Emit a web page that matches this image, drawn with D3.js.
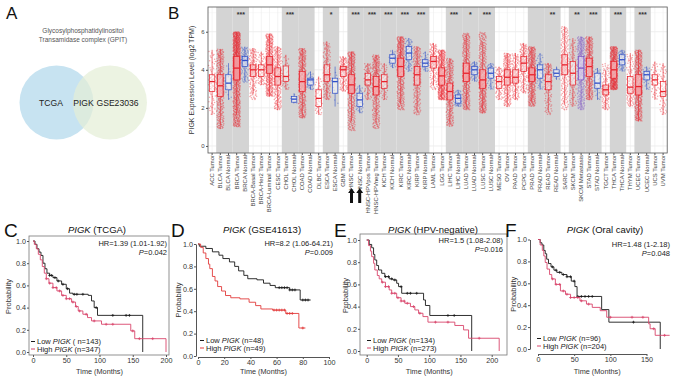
<!DOCTYPE html>
<html>
<head>
<meta charset="utf-8">
<script src="https://cdn.jsdelivr.net/npm/d3@7"></script>
<style>
  body { margin: 0; background: #fff; }
  svg { display: block; font-family: Arial, "Liberation Sans", sans-serif; }
</style>
</head>
<body>
<div id="chart"></div>
<script>
// ---------- panel A : venn ----------
const vennTitle = ["Glycosylphosphatidylinositol", "Transamidase complex (GPIT)"];
const vennSets = ["TCGA", "GSE23036"];
const vennShared = "PIGK";

// ---------- panel B : TIMER expression ----------
const cats = ["ACC Tumor","BLCA Tumor","BLCA Normal","BRCA Tumor","BRCA Normal","BRCA-Basal Tumor","BRCA-Her2 Tumor","BRCA-Luminal Tumor","CESC Tumor","CHOL Tumor","CHOL Normal","COAD Tumor","COAD Normal","DLBC Tumor","ESCA Tumor","ESCA Normal","GBM Tumor","HNSC Tumor","HNSC Normal","HNSC-HPVpos Tumor","HNSC-HPVneg Tumor","KICH Tumor","KICH Normal","KIRC Tumor","KIRC Normal","KIRP Tumor","KIRP Normal","LAML Tumor","LGG Tumor","LIHC Tumor","LIHC Normal","LUAD Tumor","LUAD Normal","LUSC Tumor","LUSC Normal","MESO Tumor","OV Tumor","PAAD Tumor","PCPG Tumor","PRAD Tumor","PRAD Normal","READ Tumor","READ Normal","SARC Tumor","SKCM Tumor","SKCM Metastasis","STAD Tumor","STAD Normal","TGCT Tumor","THCA Tumor","THCA Normal","THYM Tumor","UCEC Tumor","UCEC Normal","UCS Tumor","UVM Tumor"];
const q1  = [2.86,2.60,2.95,3.47,4.17,3.65,3.65,3.82,3.20,3.38,2.30,2.86,3.20,2.07,3.38,2.77,3.65,2.77,2.07,3.20,2.68,3.03,4.35,3.65,4.53,3.20,4.17,4.09,3.20,2.42,2.25,3.38,3.74,3.03,3.56,3.03,3.20,3.30,3.92,3.38,3.56,2.95,3.65,3.74,3.20,3.47,3.65,3.03,2.68,3.56,4.26,2.77,2.68,3.47,3.20,2.60];
const med = [3.38,3.16,3.30,4.09,4.49,4.00,4.00,4.26,3.65,3.65,2.46,3.38,3.47,2.50,3.74,3.38,4.00,3.21,2.42,3.47,3.12,3.38,4.61,4.17,4.88,3.74,4.35,4.44,3.68,2.86,2.50,3.82,4.00,3.47,3.82,3.38,3.61,3.61,4.35,3.74,4.00,3.38,3.82,4.26,3.82,4.09,4.17,3.30,2.95,4.00,4.53,3.09,3.12,3.74,3.47,2.86];
const q3  = [3.74,3.74,3.74,4.70,4.70,4.26,4.26,4.70,4.10,4.20,2.60,3.92,3.56,2.95,4.26,3.56,4.17,3.74,2.77,3.82,3.65,3.74,4.79,4.61,5.22,4.17,4.53,4.70,4.10,3.30,2.68,4.35,4.17,4.00,4.09,3.65,4.00,4.00,4.70,4.10,4.26,3.74,4.00,4.79,4.44,4.70,4.61,3.82,3.20,4.44,4.79,3.65,3.74,3.92,3.74,3.38];
const lo  = [1.63,0.90,2.42,1.00,3.30,2.42,3.20,2.60,1.89,2.95,2.25,1.46,2.95,1.63,2.42,2.07,2.86,0.80,1.72,2.42,0.90,2.42,4.09,1.89,3.91,1.63,3.91,2.95,2.42,1.02,2.07,1.89,3.38,1.72,2.95,2.42,2.07,2.42,2.77,2.07,2.95,1.63,3.47,1.89,2.07,1.89,2.42,2.42,1.89,2.95,3.91,2.07,1.30,2.95,2.42,1.63];
const hi  = [5.05,5.10,4.35,6.00,5.22,5.14,4.96,5.90,5.23,4.79,2.77,5.14,3.91,3.65,5.49,4.17,4.70,4.96,3.21,4.35,4.79,4.35,5.05,5.75,5.67,5.23,4.96,5.40,5.05,4.61,2.95,5.93,4.44,6.00,4.35,4.17,4.88,4.88,5.40,5.23,4.88,4.35,4.17,6.28,5.67,5.75,5.75,4.09,4.35,5.23,5.05,4.88,5.05,4.17,4.44,4.35];
const nSamples = [79,408,19,1093,112,191,82,566,304,36,9,457,41,48,184,11,153,520,44,97,421,66,25,533,72,290,32,173,516,371,50,515,59,501,51,87,303,178,179,497,52,166,10,259,103,368,415,35,150,509,59,120,545,35,57,80];
const pairStart = [1,3,9,11,14,17,19,21,23,25,29,31,33,39,41,44,46,49,52];
const starPair  = [3,9,14,17,19,21,23,25,29,31,33,41,44,46,49,52];
const starText  = ["***","***","*","***","***","***","***","***","***","*","***","**","**","***","***","***"];
const arrowCats = ["HNSC Tumor","HNSC Normal"];
const yTicksB = [0,2,4,6];

// ---------- panels C-F : Kaplan-Meier ----------
const kmTitles = ["(TCGA)","(GSE41613)","(HPV-negative)","(Oral cavity)"];
const kmHR = ["HR=1.39 (1.01-1.92)","HR=8.2 (1.06-64.21)","HR=1.5 (1.08-2.08)","HR=1.48 (1-2.18)"];
const kmP = ["=0.042","=0.009","=0.016","=0.048"];
const kmLowN = ["( n=143)","(n=48)","(n=134)","(n=96)"];
const kmHighN = ["(n=347)","(n=49)","(n=273)","(n=204)"];

const cLowT  = [0,3,6,9,12,15,18,21,25,30,36,43,50,55,60,83,88,92,97,165];
const cLowS  = [1,0.97,0.93,0.90,0.87,0.80,0.75,0.71,0.69,0.67,0.64,0.61,0.57,0.53,0.52,0.51,0.46,0.40,0.33,0];
const cHighT = [0,2,5,8,11,14,17,20,24,30,36,43,50,58,64,68,75,82,88,103,147,153,200];
const cHighS = [1,0.97,0.93,0.88,0.83,0.77,0.71,0.66,0.62,0.58,0.55,0.51,0.48,0.45,0.41,0.37,0.34,0.31,0.28,0.25,0.19,0.12,0];
const cLowCens  = [25,28,33,38,45,52,62,66,75,95,120,140,145];
const cHighCens = [20,25,30,35,40,45,50,55,60,65,70,80,92,110,120,150,160,180];

const dLowT  = [0,1,6,11,16,19,24,28,31,35,38,45,50,55,59,70,78,86];
const dLowS  = [1,0.98,0.96,0.93,0.90,0.87,0.84,0.80,0.76,0.72,0.69,0.68,0.65,0.63,0.61,0.59,0.50,0.50];
const dHighT = [0,2,4,6,8,9,11,13,15,18,21,25,32,39,44,48,57,67,77,82];
const dHighS = [1,0.97,0.92,0.87,0.82,0.78,0.71,0.67,0.62,0.58,0.54,0.52,0.51,0.48,0.45,0.42,0.41,0.38,0.25,0.25];
const dLowCens  = [62,64,66,68,70,72,74,80,82,84];
const dHighCens = [58,60,62,64,66,68,70,72,80];

const eLowT  = [0,4,8,11,13,16,19,24,29,36,42,48,51,56,91,94,101,168];
const eLowS  = [1,0.96,0.93,0.87,0.82,0.77,0.73,0.70,0.67,0.65,0.64,0.61,0.58,0.52,0.46,0.41,0.32,0];
const eHighT = [0,3,6,8,11,13,17,20,24,30,36,40,48,55,61,70,77,83,90,98,141,155,163,212];
const eHighS = [1,0.95,0.90,0.85,0.79,0.73,0.68,0.65,0.62,0.58,0.55,0.52,0.48,0.45,0.43,0.40,0.37,0.34,0.31,0.26,0.23,0.19,0.115,0];
const eLowCens  = [30,35,40,45,55,65,70,80,130,140];
const eHighCens = [25,30,35,40,45,50,55,60,65,75,85,110,130,180];

const fLowT  = [0,3,5.5,8,10,12,14.5,18,22,26,33,40,46,51,54,88,98,169];
const fLowS  = [1,0.97,0.95,0.90,0.87,0.82,0.78,0.75,0.72,0.70,0.68,0.66,0.62,0.57,0.48,0.36,0.245,0];
const fHighT = [0,3,6,8,10,12.5,16,19,24,31,38,45,58,67,75,86,95,153,155,162,182];
const fHighS = [1,0.95,0.90,0.85,0.79,0.73,0.68,0.64,0.59,0.53,0.50,0.47,0.44,0.41,0.38,0.35,0.29,0.23,0.185,0.125,0.125];
const fLowCens  = [20,25,30,35,40,45,50,55,60,65,70,75,132];
const fHighCens = [20,25,30,35,40,45,50,55,60,70,100,130,145,160,175];

const W = 678, H = 378;
const svg = d3.select("#chart").append("svg").attr("width", W).attr("height", H);

function letter(t, x, y, size) {
  svg.append("text").attr("x", x).attr("y", y).attr("font-size", size).attr("fill", "#111").text(t);
}

// radical inverse, used to spread the strip points evenly
function halton(k, base) {
  let f = 1, r = 0;
  while (k > 0) { f /= base; r += f * (k % base); k = Math.floor(k / base); }
  return r;
}

// ========== A ==========
letter("A", 6, 19, 17);
vennTitle.forEach((t, i) => {
  svg.append("text").attr("x", 83).attr("y", 33 + i * 9).attr("text-anchor", "middle")
    .attr("font-size", 6.5).attr("fill", "#555").text(t);
});
svg.append("circle").attr("cx", 56.5).attr("cy", 102.5).attr("r", 37).attr("fill", "#c7e3f1");
svg.append("circle").attr("cx", 110).attr("cy", 102.5).attr("r", 37).attr("fill", "#e4eed7").attr("fill-opacity", 0.72);
[[vennSets[0], 51], [vennShared, 83.5], [vennSets[1], 117.5]].forEach(([t, x]) => {
  svg.append("text").attr("x", x).attr("y", 106).attr("text-anchor", "middle")
    .attr("font-size", 8.6).attr("fill", "#222").text(t);
});

// ========== B ==========
letter("B", 168, 19, 17);
const bx0 = 208, bx1 = 667.2, by0 = 7, by1 = 153;
const xB = d3.scaleBand().domain(cats).range([bx0, bx1]);
const yB = d3.scaleLinear().domain([-0.37, 7.3]).range([by1, by0]);
const bw = xB.bandwidth();
const gB = svg.append("g");

// horizontal grid
d3.range(0, 8).forEach(v => {
  gB.append("line").attr("x1", bx0).attr("x2", bx1).attr("y1", yB(v)).attr("y2", yB(v))
    .attr("stroke", v % 2 ? "#f2f2f2" : "#e6e6e6").attr("stroke-width", v % 2 ? 0.5 : 0.7);
});
// vertical grid
cats.forEach(c => {
  gB.append("line").attr("x1", xB(c) + bw / 2).attr("x2", xB(c) + bw / 2).attr("y1", by0).attr("y2", by1)
    .attr("stroke", "#ececec").attr("stroke-width", 0.6);
});
// gray pair bands
pairStart.forEach(i => {
  gB.append("rect").attr("x", xB(cats[i])).attr("y", by0).attr("width", bw * 2).attr("height", by1 - by0)
    .attr("fill", "#d4d4d4");
});

const kindColor = c => c.includes("Metastasis") ? "#7d52c4" : c.includes("Normal") ? "#2f4fc8" : "#e8212b";

// points: strip of each category's distribution, placed at its quantiles
const dots = gB.append("g");
cats.forEach((c, i) => {
  const qf = d3.scaleLinear().domain([0, 0.25, 0.5, 0.75, 1]).range([lo[i], q1[i], med[i], q3[i], hi[i]]);
  const n = nSamples[i];
  const col = kindColor(c);
  const xc = xB(c) + bw / 2;
  d3.range(n).forEach(k => {
    const p = halton(k + 1, 2);
    const jit = halton(k + 1, 3) - 0.5;
    dots.append("circle").attr("cx", xc + jit * bw * 0.88).attr("cy", yB(qf(p)))
      .attr("r", 0.75).attr("fill", col).attr("fill-opacity", 0.4);
  });
});

// boxes
cats.forEach((c, i) => {
  const col = kindColor(c);
  const xc = xB(c) + bw / 2;
  const iqr = q3[i] - q1[i];
  const wHi = Math.min(hi[i], q3[i] + 1.5 * iqr);
  const wLo = Math.max(lo[i], q1[i] - 1.5 * iqr);
  const bwid = bw * 0.66;
  gB.append("line").attr("x1", xc).attr("x2", xc).attr("y1", yB(q3[i])).attr("y2", yB(wHi))
    .attr("stroke", col).attr("stroke-width", 0.6);
  gB.append("line").attr("x1", xc).attr("x2", xc).attr("y1", yB(q1[i])).attr("y2", yB(wLo))
    .attr("stroke", col).attr("stroke-width", 0.6);
  gB.append("rect").attr("x", xc - bwid / 2).attr("y", yB(q3[i])).attr("width", bwid)
    .attr("height", yB(q1[i]) - yB(q3[i])).attr("fill", "#fff").attr("fill-opacity", 0.5)
    .attr("stroke", col).attr("stroke-width", 0.7);
  gB.append("line").attr("x1", xc - bwid / 2).attr("x2", xc + bwid / 2).attr("y1", yB(med[i])).attr("y2", yB(med[i]))
    .attr("stroke", col).attr("stroke-width", 1.3);
});

// stars
starPair.forEach((i, k) => {
  gB.append("text").attr("x", xB(cats[i]) + bw).attr("y", 17).attr("text-anchor", "middle")
    .attr("font-size", 7).attr("font-weight", "bold").attr("fill", "#333").text(starText[k]);
});

// frame
gB.append("rect").attr("x", bx0).attr("y", by0).attr("width", bx1 - bx0).attr("height", by1 - by0)
  .attr("fill", "none").attr("stroke", "#555").attr("stroke-width", 0.8);

// y axis
const axYB = gB.append("g").attr("transform", `translate(${bx0},0)`)
  .call(d3.axisLeft(yB).tickValues(yTicksB).tickSize(2).tickPadding(1.5));
axYB.select(".domain").remove();
axYB.selectAll("line").attr("stroke", "#555");
axYB.selectAll("text").attr("font-size", 6).attr("fill", "#444").attr("font-family", null);
gB.append("text").attr("transform", `translate(194,${(by0 + by1) / 2}) rotate(-90)`)
  .attr("text-anchor", "middle").attr("font-size", 7).attr("fill", "#333")
  .text("PIGK Expression Level (log2 TPM)");

// x axis
const axXB = gB.append("g").attr("transform", `translate(0,${by1})`)
  .call(d3.axisBottom(xB).tickSize(2).tickPadding(2));
axXB.select(".domain").remove();
axXB.selectAll("line").attr("stroke", "#555");
axXB.selectAll("text").attr("font-size", 5.9).attr("fill", "#444").attr("font-family", null)
  .attr("text-anchor", "end").attr("dy", "0.32em")
  .attr("transform", "translate(0,2) rotate(-90)").attr("x", 0).attr("y", 0);

// arrows under HNSC
arrowCats.forEach(c => {
  const xc = xB(c) + bw / 2, top = 188, bot = 203;
  gB.append("path")
    .attr("d", `M${xc},${top} L${xc + 3.4},${top + 5} L${xc + 1.5},${top + 5} L${xc + 1.5},${bot} L${xc - 1.5},${bot} L${xc - 1.5},${top + 5} L${xc - 3.4},${top + 5} Z`)
    .attr("fill", "#111");
});

// ========== C-F ==========
function kmPanel(cfg) {
  const g = svg.append("g");
  const x = d3.scaleLinear().domain(cfg.xd).range(cfg.xr);
  const y = d3.scaleLinear().domain([0, 1]).range(cfg.yr);
  letter(cfg.letter, cfg.lx, 237, 19);

  const title = g.append("text").attr("x", cfg.tx).attr("y", 233).attr("text-anchor", "middle")
    .attr("font-size", 9.5).attr("fill", "#111");
  title.append("tspan").attr("font-style", "italic").text("PIGK");
  title.append("tspan").text(" " + cfg.title);

  if (cfg.frame) {
    g.append("rect").attr("x", cfg.frame[0]).attr("y", cfg.frame[2])
      .attr("width", cfg.frame[1] - cfg.frame[0]).attr("height", cfg.frame[3] - cfg.frame[2])
      .attr("fill", "none").attr("stroke", "#777").attr("stroke-width", 0.8);
  }
  const ay = g.append("g").attr("transform", `translate(${cfg.axX},0)`)
    .call(d3.axisLeft(y).tickValues([0, 0.2, 0.4, 0.6, 0.8, 1]).tickFormat(d3.format(".1f")).tickSize(2).tickSizeOuter(0).tickPadding(1));
  const ax = g.append("g").attr("transform", `translate(0,${cfg.axY})`)
    .call(d3.axisBottom(x).tickValues(cfg.xt).tickSize(2).tickSizeOuter(0).tickPadding(1));
  [ay, ax].forEach(a => {
    if (cfg.frame) a.select(".domain").remove();
    a.selectAll("path,line").attr("stroke", "#555");
    a.selectAll("text").attr("font-size", 7.2).attr("fill", "#333").attr("font-family", null);
  });
  g.append("text").attr("x", (cfg.xr[0] + cfg.xr[1]) / 2 + cfg.xlabShift).attr("y", 373.5).attr("text-anchor", "middle")
    .attr("font-size", 7.3).attr("fill", "#333").text("Time (Months)");
  g.append("text").attr("transform", `translate(${cfg.ylabX},${(cfg.yr[0] + cfg.yr[1]) / 2}) rotate(-90)`)
    .attr("text-anchor", "middle").attr("font-size", 7.5).attr("fill", "#333").text("Probability");

  const line = d3.line().x(d => x(d[0])).y(d => y(d[1])).curve(d3.curveStepAfter);
  const curves = [
    { t: cfg.lowT, s: cfg.lowS, cens: cfg.lowC, col: "#1a1a1a" },
    { t: cfg.highT, s: cfg.highS, cens: cfg.highC, col: cfg.red }
  ];
  curves.forEach(cv => {
    const pts = cv.t.map((t, i) => [t, cv.s[i]]);
    g.append("path").datum(pts).attr("d", line).attr("fill", "none")
      .attr("stroke", cv.col).attr("stroke-width", 0.9);
    cv.cens.forEach(ct => {
      const idx = d3.bisectRight(cv.t, ct) - 1;
      const sv = cv.s[Math.max(0, idx)];
      const cx = x(ct), cy = y(sv);
      g.append("path").attr("d", `M${cx - 1.4},${cy}H${cx + 1.4}M${cx},${cy - 1.4}V${cy + 1.4}`)
        .attr("stroke", cv.col).attr("stroke-width", 0.8);
    });
  });

  // HR text
  g.append("text").attr("x", cfg.hrX).attr("y", cfg.hrY).attr("text-anchor", "end")
    .attr("font-size", 7.5).attr("fill", "#222").text(cfg.hr);
  const pt = g.append("text").attr("x", cfg.hrX).attr("y", cfg.hrY + 9).attr("text-anchor", "end")
    .attr("font-size", 7.5).attr("fill", "#222");
  pt.append("tspan").attr("font-style", "italic").text("P");
  pt.append("tspan").text(cfg.p);

  // legend
  [["Low ", cfg.lowN, "#1a1a1a"], ["High ", cfg.highN, cfg.red]].forEach(([lab, nn, col], i) => {
    const ly = cfg.legY + i * 7.5;
    g.append("line").attr("x1", cfg.legX).attr("x2", cfg.legX + 4).attr("y1", ly - 2.5).attr("y2", ly - 2.5)
      .attr("stroke", col).attr("stroke-width", 1);
    const t = g.append("text").attr("x", cfg.legX + 6).attr("y", ly).attr("font-size", 7.5).attr("fill", "#222");
    t.append("tspan").text(lab);
    t.append("tspan").attr("font-style", "italic").text("PIGK");
    t.append("tspan").text(" " + nn);
  });
}

kmPanel({ letter: "C", lx: 4, tx: 97, title: kmTitles[0], frame: [29, 169, 236, 355],
  xd: [0, 200], xr: [33, 166], yr: [352, 241], axX: 29, axY: 355, xt: [0, 50, 100, 150, 200],
  xlabShift: 0, ylabX: 11, red: "#d9466c",
  lowT: cLowT, lowS: cLowS, lowC: cLowCens, highT: cHighT, highS: cHighS, highC: cHighCens,
  hr: kmHR[0], p: kmP[0], hrX: 167, hrY: 246, lowN: kmLowN[0], highN: kmHighN[0], legX: 31, legY: 344 });

kmPanel({ letter: "D", lx: 171, tx: 262, title: kmTitles[1], frame: null,
  xd: [0, 100], xr: [198, 329], yr: [356, 244], axX: 196, axY: 357, xt: [0, 20, 40, 60, 80, 100],
  xlabShift: 0, ylabX: 181, red: "#e23b3b",
  lowT: dLowT, lowS: dLowS, lowC: dLowCens, highT: dHighT, highS: dHighS, highC: dHighCens,
  hr: kmHR[1], p: kmP[1], hrX: 333, hrY: 246, lowN: kmLowN[1], highN: kmHighN[1], legX: 200, legY: 343 });

kmPanel({ letter: "E", lx: 334, tx: 433, title: kmTitles[2], frame: [360, 507, 234, 355],
  xd: [0, 200], xr: [366.7, 491.7], yr: [351, 240], axX: 360, axY: 355, xt: [0, 50, 100, 150, 200],
  xlabShift: 0, ylabX: 348, red: "#d9466c",
  lowT: eLowT, lowS: eLowS, lowC: eLowCens, highT: eHighT, highS: eHighS, highC: eHighCens,
  hr: kmHR[2], p: kmP[2], hrX: 503, hrY: 243, lowN: kmLowN[2], highN: kmHighN[2], legX: 367, legY: 343 });

kmPanel({ letter: "F", lx: 505, tx: 605, title: kmTitles[3], frame: null,
  xd: [0, 150], xr: [538, 646.5], yr: [349, 239.5], axX: 530, axY: 354, xt: [0, 50, 100, 150],
  xlabShift: 5, ylabX: 516, red: "#d9466c",
  lowT: fLowT, lowS: fLowS, lowC: fLowCens, highT: fHighT, highS: fHighS, highC: fHighCens,
  hr: kmHR[3], p: kmP[3], hrX: 670, hrY: 247, lowN: kmLowN[3], highN: kmHighN[3], legX: 537, legY: 341 });
</script>
</body>
</html>
